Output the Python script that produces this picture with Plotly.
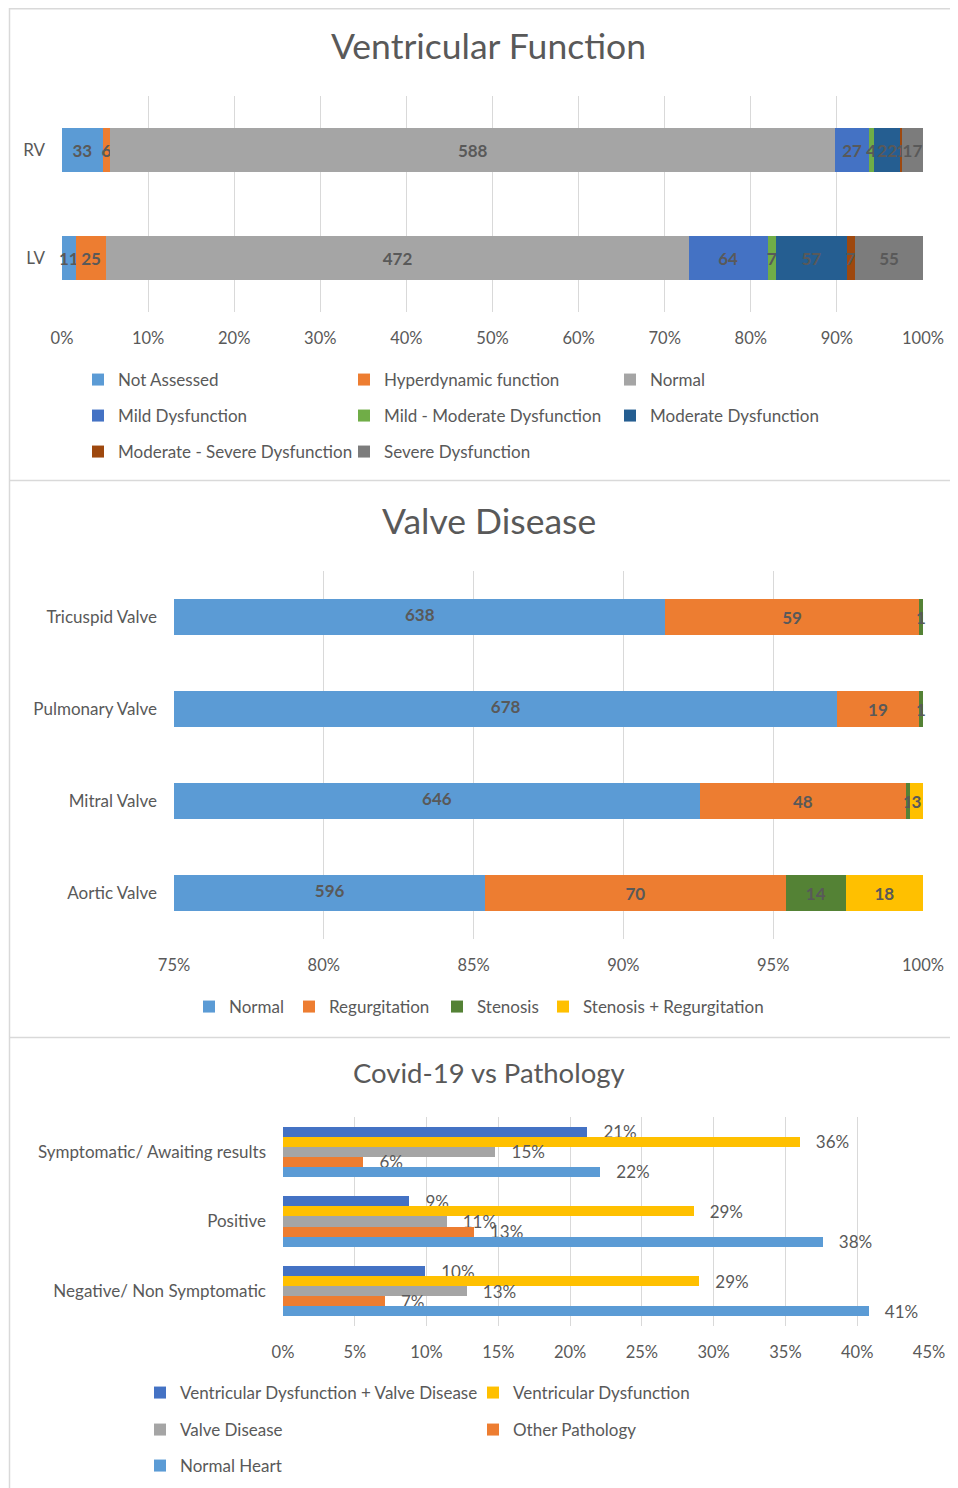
import plotly.graph_objects as go

OFF = 8                    # page body margin of the html page
W, H = 958 - OFF, 1488 - OFF
FONT = "Lato"
TXT = "#595959"
GRID = "#D9D9D9"

# ---------------- Data: Ventricular Function ----------------
vf_categories = ["RV", "LV"]
vf_series = ["Not Assessed", "Hyperdynamic function", "Normal", "Mild Dysfunction",
             "Mild - Moderate Dysfunction", "Moderate Dysfunction",
             "Moderate - Severe Dysfunction", "Severe Dysfunction"]
vf_not_assessed = [33, 11]
vf_hyperdynamic = [6, 25]
vf_normal = [588, 472]
vf_mild = [27, 64]
vf_mild_moderate = [4, 7]
vf_moderate = [22, 57]
vf_moderate_severe = [1, 7]
vf_severe = [17, 55]
vf_ticks = [0, 0.1, 0.2, 0.3, 0.4, 0.5, 0.6, 0.7, 0.8, 0.9, 1.0]

# ---------------- Data: Valve Disease ----------------
valve_categories = ["Tricuspid Valve", "Pulmonary Valve", "Mitral Valve", "Aortic Valve"]
valve_series = ["Normal", "Regurgitation", "Stenosis", "Stenosis + Regurgitation"]
valve_normal = [638, 678, 646, 596]
valve_regurgitation = [59, 19, 48, 70]
valve_stenosis = [1, 1, 1, 14]
valve_sten_regurg = [0, 0, 3, 18]
valve_ticks = [0.75, 0.80, 0.85, 0.90, 0.95, 1.0]

# ---------------- Data: Covid-19 vs Pathology ----------------
covid_categories = ["Symptomatic/ Awaiting results", "Positive", "Negative/ Non Symptomatic"]
covid_series = ["Ventricular Dysfunction + Valve Disease", "Ventricular Dysfunction",
                "Valve Disease", "Other Pathology", "Normal Heart"]
covid_vd_valve = [0.212, 0.088, 0.099]
covid_vd = [0.360, 0.286, 0.290]
covid_valve = [0.148, 0.114, 0.128]
covid_other = [0.056, 0.133, 0.071]
covid_normal = [0.221, 0.376, 0.408]
covid_ticks = [0, 0.05, 0.10, 0.15, 0.20, 0.25, 0.30, 0.35, 0.40, 0.45]

# ---------------- helpers (page pixel -> paper fraction) ----------------
def px_x(x):
    return (x - OFF) / W

def px_y(y):
    return 1 - (y - OFF) / H

fig = go.Figure()

# ---------- Chart 1 ----------
vf_values = [vf_not_assessed, vf_hyperdynamic, vf_normal, vf_mild, vf_mild_moderate,
             vf_moderate, vf_moderate_severe, vf_severe]
vf_colors = ["#5B9BD5", "#ED7D31", "#A5A5A5", "#4472C4", "#70AD47", "#255E91",
             "#9E480E", "#7C7C7C"]
vf_totals = [sum(v[i] for v in vf_values) for i in range(len(vf_categories))]
vf_legends = ["legend", "legend", "legend", "legend2", "legend2", "legend2",
              "legend3", "legend3"]
for name, vals, col, lg in zip(vf_series, vf_values, vf_colors, vf_legends):
    fig.add_trace(go.Bar(
        y=vf_categories, x=[v / t for v, t in zip(vals, vf_totals)],
        orientation="h", name=name, marker=dict(color=col, line=dict(width=0)),
        width=0.407, text=[str(v) for v in vals], textposition="inside",
        insidetextanchor="middle", constraintext="none",
        textfont=dict(family=FONT, size=17, color=TXT, weight="bold"),
        xaxis="x", yaxis="y", legend=lg, hoverinfo="skip", cliponaxis=False,
    ))

# ---------- Chart 2 ----------
valve_values = [valve_normal, valve_regurgitation, valve_stenosis, valve_sten_regurg]
valve_colors = ["#5B9BD5", "#ED7D31", "#548235", "#FFC000"]
valve_legendwidths = [55, 103, 61, 0]
valve_totals = [sum(v[i] for v in valve_values) for i in range(len(valve_categories))]
VALVE_XMIN = valve_ticks[0]
for k, (name, vals, col, lw) in enumerate(zip(valve_series, valve_values, valve_colors,
                                              valve_legendwidths)):
    txt = [str(v) if v > 0 else "" for v in vals]
    if k == 0:
        txt = ["" for _ in vals]
    fig.add_trace(go.Bar(
        y=valve_categories, x=[v / t for v, t in zip(vals, valve_totals)],
        orientation="h", name=name, marker=dict(color=col, line=dict(width=0)),
        width=0.39, text=txt, textposition="inside", insidetextanchor="middle",
        constraintext="none", legendwidth=lw,
        textfont=dict(family=FONT, size=17, color=TXT, weight="bold"),
        xaxis="x2", yaxis="y2", legend="legend4", hoverinfo="skip", cliponaxis=False,
    ))
# label of the first (partly hidden) segment centred on its visible part
fig.add_trace(go.Scatter(
    y=valve_categories,
    x=[(VALVE_XMIN + v / t) / 2 for v, t in zip(valve_normal, valve_totals)],
    mode="text", text=[str(v) for v in valve_normal], textposition="middle center",
    textfont=dict(family=FONT, size=17, color=TXT, weight="bold"),
    xaxis="x2", yaxis="y2", showlegend=False, hoverinfo="skip", cliponaxis=False,
))

# ---------- Chart 3 ----------
covid_values = [covid_vd_valve, covid_vd, covid_valve, covid_other, covid_normal]
covid_colors = ["#4472C4", "#FFC000", "#A5A5A5", "#ED7D31", "#5B9BD5"]
covid_legends = ["legend5", "legend5", "legend6", "legend6", "legend7"]
BW = 0.144
for i, (name, vals, col, lg) in enumerate(zip(covid_series, covid_values, covid_colors, covid_legends)):
    fig.add_trace(go.Bar(
        y=covid_categories, x=vals, base=0, orientation="h", name=name,
        marker=dict(color=col, line=dict(width=0)),
        width=BW, offset=-2.5 * BW + i * BW,
        text=["\u00a0\u00a0\u00a0" + f"{v:.0%}" for v in vals], textposition="outside",
        constraintext="none",
        textfont=dict(family=FONT, size=17, color=TXT),
        xaxis="x3", yaxis="y3", legend=lg, hoverinfo="skip", cliponaxis=False,
    ))

axis_font = dict(family=FONT, size=16.5, color=TXT)
cat_font = dict(family=FONT, size=17, color=TXT)

def xax(dom, rng, ticks, fmt):
    return dict(domain=dom, range=rng, tickvals=ticks, tickformat=fmt, showgrid=True,
                gridcolor=GRID, gridwidth=1, zeroline=False, showline=False, ticks="",
                tickfont=axis_font, ticklabelstandoff=14, fixedrange=True,
                automargin=False)

def yax(dom):
    return dict(domain=dom, autorange="reversed", showgrid=False, zeroline=False,
                showline=False, ticks="", tickfont=cat_font, ticklabelstandoff=16,
                type="category", fixedrange=True, automargin=False)

fig.update_layout(
    width=W, height=H, margin=dict(l=0, r=0, t=0, b=0, pad=0, autoexpand=False),
    paper_bgcolor="white", plot_bgcolor="white",
    barmode="stack",
    font=dict(family=FONT, color=TXT),
    xaxis=dict(**xax([px_x(62), px_x(923)], [0, 1], vf_ticks, ".0%"), anchor="y"),
    yaxis=dict(**yax([px_y(312), px_y(96)]), anchor="x"),
    xaxis2=dict(**xax([px_x(174), px_x(923)], [0.75, 1], valve_ticks, ".0%"), anchor="y2"),
    yaxis2=dict(**yax([px_y(939), px_y(571)]), anchor="x2"),
    xaxis3=dict(**xax([px_x(283), px_x(929)], [0, 0.45], covid_ticks, ".0%"), anchor="y3"),
    yaxis3=dict(**yax([px_y(1326), px_y(1117)]), anchor="x3"),
)

def legend_cfg(xtext, yrow, entry):
    d = dict(orientation="h", x=px_x(xtext - 40), xanchor="left", y=px_y(yrow),
             yanchor="middle", font=dict(family=FONT, size=17, color=TXT),
             bgcolor="rgba(0,0,0,0)", borderwidth=0, traceorder="normal",
             itemclick=False, itemdoubleclick=False)
    if entry:
        d.update(entrywidth=entry, entrywidthmode="pixels")
    return d

fig.update_layout(
    legend=legend_cfg(118, 380, 221),
    legend2=legend_cfg(118, 416, 221),
    legend3=legend_cfg(118, 452, 221),
    legend4=legend_cfg(229, 1007, 0),
    legend5=legend_cfg(180, 1393, 288),
    legend6=legend_cfg(180, 1430, 288),
    legend7=legend_cfg(180, 1466, 288),
)

titles = [("Ventricular Function", 45, 35.5), ("Valve Disease", 520, 35.5),
          ("Covid-19 vs Pathology", 1072, 27.5)]
for t, y, s in titles:
    fig.add_annotation(text=t, x=px_x(489), y=px_y(y), xref="paper", yref="paper",
                       xanchor="center", yanchor="middle", showarrow=False,
                       font=dict(family=FONT, size=s, color=TXT))

# chart area borders
border = dict(color=GRID, width=1.5)
fig.add_shape(type="line", xref="paper", yref="paper", x0=px_x(9.5), x1=px_x(9.5),
              y0=0, y1=1, line=border)
for yy in [OFF + 0.75, 480.5, 1037.5]:
    fig.add_shape(type="line", xref="paper", yref="paper", x0=px_x(9.5), x1=1,
                  y0=px_y(yy), y1=px_y(yy), line=border)

fig.write_html("out.html")
